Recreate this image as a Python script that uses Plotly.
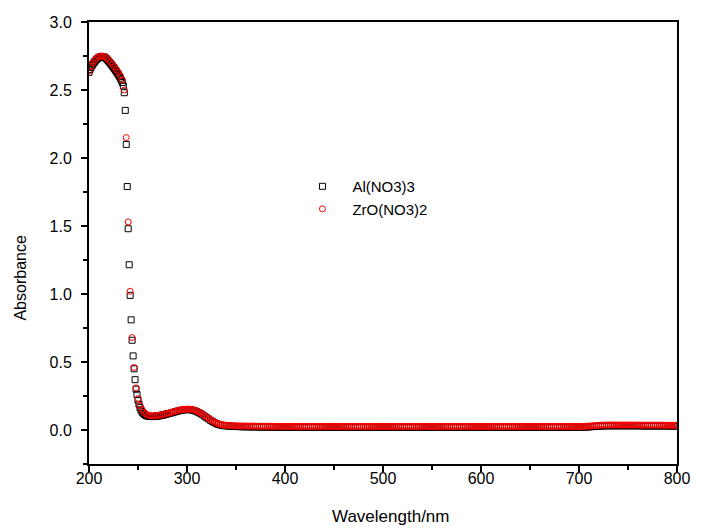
import plotly.graph_objects as go

# ---------------- data ----------------
# Al(NO3)3 : 1 nm sampling 200-280 nm, then 2 nm sampling 282-800 nm
al_wl_fine = list(range(200, 281, 1))
al_abs_fine = [
    2.630, 2.650, 2.665, 2.680, 2.690, 2.700, 2.710, 2.720, 2.727, 2.733,
    2.738, 2.742, 2.744, 2.745, 2.745, 2.743, 2.740, 2.735, 2.728, 2.720,
    2.712, 2.703, 2.694, 2.685, 2.675, 2.665, 2.655, 2.645, 2.635, 2.624,
    2.612, 2.600, 2.587, 2.572, 2.555, 2.530, 2.480, 2.350, 2.100, 1.790,
    1.480, 1.215, 0.990, 0.810, 0.660, 0.545, 0.450, 0.370, 0.300, 0.260,
    0.220, 0.190, 0.165, 0.148, 0.135, 0.125, 0.118, 0.112, 0.108, 0.105,
    0.103, 0.101, 0.100, 0.099, 0.099, 0.099, 0.099, 0.100, 0.101, 0.102,
    0.103, 0.104, 0.105, 0.107, 0.108, 0.110, 0.111, 0.113, 0.115, 0.117,
    0.119,
]
al_wl_coarse = list(range(282, 801, 2))
al_abs_coarse = [
    # 282-300
    0.122, 0.126, 0.130, 0.134, 0.138, 0.142, 0.145, 0.147, 0.149, 0.150,
    # 302-320
    0.150, 0.148, 0.145, 0.141, 0.135, 0.128, 0.120, 0.111, 0.101, 0.091,
    # 322-340
    0.081, 0.071, 0.062, 0.054, 0.047, 0.041, 0.037, 0.034, 0.032, 0.030,
    # 342-360
    0.029, 0.028, 0.027, 0.026, 0.026, 0.025, 0.025, 0.024, 0.024, 0.024,
    # 362-380
    0.024, 0.023, 0.023, 0.023, 0.023, 0.022, 0.022, 0.022, 0.022, 0.022,
    # 382-400
    0.022, 0.021, 0.021, 0.021, 0.021, 0.021, 0.021, 0.021, 0.021, 0.021,
    # 402-420
    0.021, 0.021, 0.020, 0.020, 0.020, 0.020, 0.020, 0.020, 0.020, 0.020,
    # 422-440
    0.020, 0.020, 0.020, 0.020, 0.020, 0.020, 0.020, 0.020, 0.020, 0.020,
    # 442-460
    0.020, 0.020, 0.020, 0.020, 0.020, 0.020, 0.020, 0.020, 0.020, 0.020,
    # 462-480
    0.020, 0.020, 0.020, 0.020, 0.020, 0.020, 0.020, 0.020, 0.020, 0.020,
    # 482-500
    0.020, 0.020, 0.020, 0.020, 0.020, 0.020, 0.020, 0.020, 0.020, 0.020,
    # 502-520
    0.020, 0.020, 0.020, 0.020, 0.020, 0.020, 0.020, 0.020, 0.020, 0.020,
    # 522-540
    0.020, 0.020, 0.020, 0.020, 0.020, 0.020, 0.020, 0.020, 0.020, 0.020,
    # 542-560
    0.020, 0.020, 0.020, 0.020, 0.020, 0.020, 0.020, 0.020, 0.020, 0.020,
    # 562-580
    0.020, 0.020, 0.020, 0.020, 0.020, 0.020, 0.020, 0.020, 0.020, 0.020,
    # 582-600
    0.020, 0.020, 0.020, 0.020, 0.020, 0.020, 0.020, 0.020, 0.020, 0.020,
    # 602-620
    0.020, 0.020, 0.020, 0.020, 0.020, 0.020, 0.020, 0.020, 0.020, 0.020,
    # 622-640
    0.020, 0.020, 0.020, 0.020, 0.020, 0.020, 0.020, 0.020, 0.020, 0.020,
    # 642-660
    0.020, 0.020, 0.020, 0.020, 0.020, 0.020, 0.020, 0.020, 0.020, 0.020,
    # 662-680
    0.020, 0.020, 0.020, 0.020, 0.020, 0.020, 0.020, 0.020, 0.020, 0.020,
    # 682-700
    0.020, 0.020, 0.020, 0.020, 0.020, 0.020, 0.020, 0.020, 0.020, 0.020,
    # 702-720
    0.020, 0.021, 0.021, 0.022, 0.023, 0.024, 0.025, 0.026, 0.027, 0.028,
    # 722-740
    0.029, 0.030, 0.030, 0.031, 0.031, 0.031, 0.031, 0.031, 0.031, 0.031,
    # 742-760
    0.031, 0.031, 0.031, 0.031, 0.031, 0.031, 0.031, 0.031, 0.031, 0.031,
    # 762-780
    0.031, 0.030, 0.030, 0.030, 0.030, 0.030, 0.030, 0.030, 0.030, 0.030,
    # 782-800
    0.030, 0.030, 0.030, 0.030, 0.030, 0.030, 0.029, 0.029, 0.029, 0.029,
]

# ZrO(NO3)2 : 2 nm sampling 200-800 nm
zr_wl = list(range(200, 801, 2))
zr_abs = [
    # 200-218
    2.640, 2.675, 2.700, 2.720, 2.735, 2.745, 2.750, 2.750, 2.745, 2.735,
    # 220-238
    2.720, 2.705, 2.690, 2.670, 2.650, 2.630, 2.605, 2.575, 2.500, 2.150,
    # 240-258
    1.530, 1.020, 0.680, 0.460, 0.310, 0.230, 0.180, 0.150, 0.130, 0.118,
    # 260-278
    0.110, 0.106, 0.104, 0.104, 0.105, 0.107, 0.109, 0.112, 0.115, 0.118,
    # 280-298
    0.122, 0.126, 0.130, 0.134, 0.138, 0.142, 0.146, 0.149, 0.151, 0.153,
    # 300-318
    0.154, 0.154, 0.152, 0.149, 0.145, 0.139, 0.132, 0.124, 0.115, 0.105,
    # 320-338
    0.095, 0.085, 0.075, 0.066, 0.058, 0.051, 0.046, 0.042, 0.039, 0.037,
    # 340-358
    0.035, 0.034, 0.033, 0.032, 0.031, 0.031, 0.030, 0.030, 0.030, 0.030,
    # 360-378
    0.029, 0.029, 0.029, 0.029, 0.029, 0.028, 0.028, 0.028, 0.028, 0.028,
    # 380-398
    0.028, 0.028, 0.027, 0.027, 0.027, 0.027, 0.027, 0.027, 0.027, 0.027,
    # 400-418
    0.027, 0.027, 0.027, 0.027, 0.027, 0.026, 0.026, 0.026, 0.026, 0.026,
    # 420-438
    0.026, 0.026, 0.026, 0.026, 0.026, 0.026, 0.026, 0.026, 0.026, 0.026,
    # 440-458
    0.026, 0.026, 0.026, 0.026, 0.026, 0.026, 0.026, 0.026, 0.026, 0.026,
    # 460-478
    0.026, 0.026, 0.026, 0.026, 0.026, 0.026, 0.026, 0.026, 0.026, 0.026,
    # 480-498
    0.026, 0.026, 0.026, 0.026, 0.026, 0.026, 0.026, 0.026, 0.026, 0.026,
    # 500-518
    0.026, 0.026, 0.026, 0.026, 0.026, 0.026, 0.026, 0.026, 0.026, 0.026,
    # 520-538
    0.026, 0.026, 0.026, 0.026, 0.026, 0.026, 0.026, 0.026, 0.026, 0.026,
    # 540-558
    0.026, 0.026, 0.026, 0.026, 0.026, 0.026, 0.026, 0.026, 0.026, 0.026,
    # 560-578
    0.026, 0.026, 0.026, 0.026, 0.026, 0.026, 0.026, 0.026, 0.026, 0.026,
    # 580-598
    0.026, 0.026, 0.026, 0.026, 0.026, 0.026, 0.026, 0.026, 0.026, 0.026,
    # 600-618
    0.026, 0.026, 0.026, 0.026, 0.026, 0.026, 0.026, 0.026, 0.026, 0.026,
    # 620-638
    0.026, 0.026, 0.026, 0.026, 0.026, 0.026, 0.026, 0.026, 0.026, 0.026,
    # 640-658
    0.026, 0.026, 0.026, 0.026, 0.026, 0.026, 0.026, 0.026, 0.026, 0.026,
    # 660-678
    0.026, 0.026, 0.026, 0.026, 0.026, 0.026, 0.026, 0.026, 0.026, 0.026,
    # 680-698
    0.026, 0.026, 0.026, 0.026, 0.026, 0.026, 0.026, 0.026, 0.026, 0.026,
    # 700-718
    0.026, 0.026, 0.027, 0.027, 0.028, 0.029, 0.030, 0.031, 0.032, 0.033,
    # 720-738
    0.034, 0.035, 0.036, 0.036, 0.037, 0.037, 0.037, 0.037, 0.037, 0.037,
    # 740-758
    0.037, 0.037, 0.037, 0.037, 0.037, 0.037, 0.037, 0.037, 0.037, 0.037,
    # 760-778
    0.037, 0.036, 0.036, 0.036, 0.036, 0.036, 0.036, 0.036, 0.036, 0.036,
    # 780-798
    0.036, 0.036, 0.036, 0.036, 0.035, 0.035, 0.035, 0.035, 0.035, 0.035,
    # 800
    0.035,
]

al_wl = al_wl_fine + al_wl_coarse
al_abs = al_abs_fine + al_abs_coarse

x_ticks = [200, 300, 400, 500, 600, 700, 800]
y_ticks = [0.0, 0.5, 1.0, 1.5, 2.0, 2.5, 3.0]
y_tick_text = ["0.0", "0.5", "1.0", "1.5", "2.0", "2.5", "3.0"]

FONT = "Arial, Liberation Sans, sans-serif"

fig = go.Figure()
fig.add_trace(go.Scatter(
    x=al_wl, y=al_abs, mode="markers", name="Al(NO3)3",
    marker=dict(symbol="square-open", size=6, color="black",
                line=dict(width=1, color="black")),
))
fig.add_trace(go.Scatter(
    x=zr_wl, y=zr_abs, mode="markers", name="ZrO(NO3)2",
    marker=dict(symbol="circle-open", size=6, color="#ff0000",
                line=dict(width=1, color="#ff0000")),
))

axis_common = dict(
    showline=True, linecolor="black", linewidth=2, mirror=True,
    ticks="outside", ticklen=6, tickwidth=1.5, tickcolor="black",
    showgrid=False, zeroline=False,
    tickfont=dict(family=FONT, size=16, color="black"),
)

fig.update_xaxes(
    range=[200, 800], tickvals=x_ticks,
    minor=dict(ticks="outside", ticklen=4, dtick=50, tickcolor="black", tickwidth=1.5),
    ticklabelstandoff=-7,
    **axis_common,
)
fig.update_yaxes(
    range=[-0.25, 3.0], tickvals=y_ticks, ticktext=y_tick_text,
    minor=dict(ticks="outside", ticklen=4, dtick=0.25, tick0=0, tickcolor="black",
               tickwidth=1.5),
    ticklabelstandoff=6,
    **axis_common,
)

fig.add_annotation(
    text="Absorbance", xref="paper", yref="paper", x=-0.117, y=0.42,
    xanchor="center", yanchor="middle", textangle=-90, showarrow=False,
    font=dict(family=FONT, size=16, color="black"),
)
fig.add_annotation(
    text="Wavelength/nm", xref="paper", yref="paper", x=0.513, y=-0.118,
    xanchor="center", yanchor="middle", showarrow=False,
    font=dict(family=FONT, size=17, color="black"),
)

fig.update_layout(
    width=702, height=531,
    margin=dict(l=89, r=15, t=22, b=67),
    paper_bgcolor="white", plot_bgcolor="white",
    font=dict(family=FONT, color="black"),
    showlegend=True,
    legend=dict(
        x=0.346, y=0.665, xanchor="left", yanchor="top",
        bgcolor="rgba(0,0,0,0)", borderwidth=0,
        font=dict(family=FONT, size=15, color="black"),
        itemwidth=50, traceorder="normal",
    ),
)

fig.write_html("out.html")
